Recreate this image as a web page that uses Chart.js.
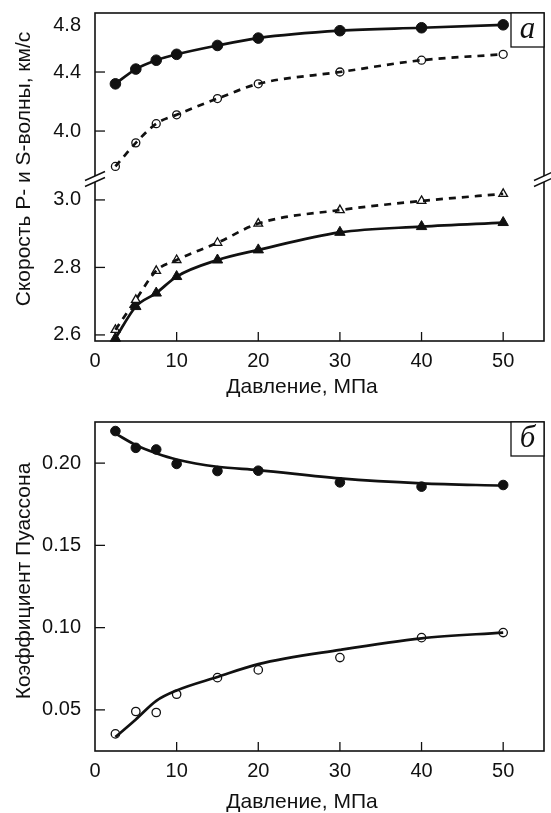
<!DOCTYPE html>
<html lang="ru">
<head>
<meta charset="utf-8">
<title>Скорость волн и коэффициент Пуассона</title>
<script src="https://cdn.jsdelivr.net/npm/chart.js@4.4.1/dist/chart.umd.min.js"></script>
<style>
  html, body { margin: 0; padding: 0; background: #fff; }
  canvas { position: absolute; left: 0; }
  #chart-velocity { top: 0; }
  #chart-poisson { top: 400px; }
</style>
</head>
<body>
<canvas id="chart-velocity" width="551" height="400"></canvas>
<canvas id="chart-poisson" width="551" height="413"></canvas>
<script>
// Давление, МПа
const PRESSURE = [2.5, 5, 7.5, 10, 15, 20, 30, 40, 50];

// Скорость P-волны, км/с (заполненные и пустые кружки)
const VP_FILLED = [4.32, 4.42, 4.48, 4.52, 4.58, 4.63, 4.68, 4.70, 4.72];
const VP_OPEN   = [3.76, 3.92, 4.05, 4.11, 4.22, 4.32, 4.40, 4.48, 4.52];

// Скорость S-волны, км/с (пустые и заполненные треугольники)
const VS_OPEN   = [2.615, 2.704, 2.79, 2.822, 2.873, 2.93, 2.97, 2.997, 3.018];
const VS_FILLED = [2.59, 2.684, 2.724, 2.773, 2.822, 2.852, 2.904, 2.921, 2.933];

// Коэффициент Пуассона: измерения и сглаживающие кривые
const NU_FILLED     = [0.2195, 0.2093, 0.2083, 0.1995, 0.1952, 0.1954, 0.1883, 0.1857, 0.1867];
const NU_FILLED_FIT = [0.2180, 0.2110, 0.2060, 0.2022, 0.1978, 0.1958, 0.1907, 0.1877, 0.1863];
const NU_OPEN       = [0.0354, 0.0490, 0.0484, 0.0595, 0.0696, 0.0743, 0.0818, 0.0939, 0.0970];
const NU_OPEN_FIT   = [0.0335, 0.0442, 0.0555, 0.0618, 0.0700, 0.0778, 0.0865, 0.0935, 0.0970];

// Подписи делений
const X_TICKS  = [0, 10, 20, 30, 40, 50];
const VP_TICKS = [4.0, 4.4, 4.8];
const VS_TICKS = [2.6, 2.8, 3.0];
const NU_TICKS = [0.05, 0.10, 0.15, 0.20];

const INK = "#111";
const SANS = "'Liberation Sans', Arial, sans-serif";

const pts = (ys) => PRESSURE.map((x, i) => ({ x, y: ys[i] }));

// точки измерений
function markers(ys, axis, style, filled, r) {
  return {
    data: pts(ys), yAxisID: axis, order: 1, showLine: false, clip: false,
    pointStyle: style, pointRadius: r, pointHoverRadius: r,
    pointBackgroundColor: filled ? INK : "#fff",
    pointBorderColor: INK, pointBorderWidth: filled ? 1 : 1.3,
  };
}

// кривая поверх точек
function curve(ys, axis, dashed) {
  return {
    data: pts(ys), yAxisID: axis, order: 0, showLine: true, clip: false,
    pointRadius: 0, borderColor: INK, borderWidth: 2.7,
    borderDash: dashed ? [7, 6] : [], cubicInterpolationMode: "monotone",
  };
}

function fixTicks(values) {
  return (s) => { s.ticks = values.map((v) => ({ value: v })); };
}

// без запаса под крайние подписи: область графика задаётся вручную
function noPadding(s) {
  s.paddingTop = s.paddingBottom = s.paddingLeft = s.paddingRight = 0;
}

const tickFont = { family: SANS, size: 20 };

function xScale(height) {
  return {
    type: "linear", min: 0, max: 55,
    grid: { display: false, drawTicks: false }, border: { display: false },
    ticks: { font: tickFont, color: INK, padding: 8, maxRotation: 0, autoSkip: false },
    afterBuildTicks: fixTicks(X_TICKS),
    afterFit: (s) => { s.height = height; noPadding(s); },
  };
}

function yScale(min, max, values, digits, extra) {
  return Object.assign({
    type: "linear", position: "left", min, max,
    grid: { display: false, drawTicks: false }, border: { display: false },
    ticks: {
      font: tickFont, color: INK, padding: 14, autoSkip: false,
      // подпись у самой рамки опускаем на полстроки, чтобы она не вылезала наверх
      callback: (v) => (v >= max - 1e-9 ? ["", Number(v).toFixed(digits)] : Number(v).toFixed(digits)),
    },
    afterBuildTicks: fixTicks(values),
    afterFit: (s) => { s.width = 95; noPadding(s); },
  }, extra);
}

// Рамка, внутренние деления, разрыв оси, подписи осей и метка панели
const panelPlugin = {
  id: "panel",
  beforeDatasetsDraw(chart, args, o) {
    const { ctx, chartArea: a } = chart;
    ctx.save();
    ctx.strokeStyle = INK;
    ctx.lineWidth = 1.6;
    ctx.strokeRect(a.left, a.top, a.right - a.left, a.bottom - a.top);

    // деления внутрь области графика
    ctx.lineWidth = 1.3;
    Object.values(chart.scales).forEach((sc) => {
      sc.ticks.forEach((t) => {
        const p = sc.getPixelForValue(t.value);
        ctx.beginPath();
        if (sc.axis === "x") {
          if (p <= a.left + 1) return;
          ctx.moveTo(p, a.bottom); ctx.lineTo(p, a.bottom - 9);
        } else {
          if (p <= a.top + 1) return;
          ctx.moveTo(a.left, p); ctx.lineTo(a.left + 10, p);
        }
        ctx.stroke();
      });
    });

    // разрыв оси между двумя шкалами
    if (o.breakScale) {
      const yb = chart.scales[o.breakScale].bottom;
      [a.left, a.right].forEach((x) => {
        ctx.fillStyle = "#fff";
        ctx.fillRect(x - 2, yb - 3, 4, 6);
        ctx.lineWidth = 1.4;
        [-3, 3].forEach((d) => {
          ctx.beginPath();
          ctx.moveTo(x - 10, yb + d + 4.5);
          ctx.lineTo(x + 10, yb + d - 4.5);
          ctx.stroke();
        });
      });
    }
    ctx.restore();
  },
  afterDatasetsDraw(chart, args, o) {
    const { ctx, chartArea: a } = chart;
    ctx.save();
    // метка панели в правом верхнем углу
    const bw = 33, bh = 34;
    ctx.fillStyle = "#fff";
    ctx.fillRect(a.right - bw, a.top, bw, bh);
    ctx.strokeStyle = INK;
    ctx.lineWidth = 1.3;
    ctx.strokeRect(a.right - bw, a.top, bw, bh);
    ctx.fillStyle = INK;
    ctx.font = "italic 31px 'Liberation Serif', 'Times New Roman', serif";
    ctx.textAlign = "center";
    ctx.textBaseline = "alphabetic";
    ctx.fillText(o.label, a.right - bw / 2, a.top + 25);

    // подписи осей
    ctx.font = `21px ${SANS}`;
    ctx.fillText(o.xTitle, o.xTitleX, o.xTitleY);
    ctx.translate(o.yTitleX, o.yTitleY);
    ctx.rotate(-Math.PI / 2);
    ctx.textBaseline = "middle";
    ctx.fillText(o.yTitle, 0, 0);
    ctx.restore();
  },
};

const common = {
  responsive: false,
  animation: false,
  events: [],
  plugins: { legend: { display: false }, tooltip: { enabled: false } },
};

new Chart(document.getElementById("chart-velocity"), {
  type: "scatter",
  data: {
    datasets: [
      curve(VP_FILLED, "yUp", false),
      curve(VP_OPEN, "yUp", true),
      curve(VS_OPEN, "yLow", true),
      curve(VS_FILLED, "yLow", false),
      markers(VP_FILLED, "yUp", "circle", true, 5.3),
      markers(VP_OPEN, "yUp", "circle", false, 4),
      markers(VS_OPEN, "yLow", "triangle", false, 5),
      markers(VS_FILLED, "yLow", "triangle", true, 6),
    ],
  },
  options: {
    ...common,
    layout: { padding: { top: 13, right: 7, left: 0, bottom: 0 } },
    scales: {
      x: xScale(59),
      yUp: yScale(3.675, 4.8, VP_TICKS, 1, { stack: "v", stackWeight: 166, weight: 1 }),
      yLow: yScale(2.582, 3.062, VS_TICKS, 1, { stack: "v", stackWeight: 162, weight: 0 }),
    },
    plugins: {
      ...common.plugins,
      panel: {
        label: "а", breakScale: "yUp",
        xTitle: "Давление, МПа", xTitleX: 302, xTitleY: 393,
        yTitle: "Скорость P- и S-волны, км/с", yTitleX: 24, yTitleY: 169,
      },
    },
  },
  plugins: [panelPlugin],
});

new Chart(document.getElementById("chart-poisson"), {
  type: "scatter",
  data: {
    datasets: [
      curve(NU_FILLED_FIT, "y", false),
      curve(NU_OPEN_FIT, "y", false),
      markers(NU_FILLED, "y", "circle", true, 4.8),
      markers(NU_OPEN, "y", "circle", false, 4.2),
    ],
  },
  options: {
    ...common,
    layout: { padding: { top: 22, right: 7, left: 0, bottom: 0 } },
    scales: {
      x: xScale(62),
      y: yScale(0.025, 0.225, NU_TICKS, 2),
    },
    plugins: {
      ...common.plugins,
      panel: {
        label: "б",
        xTitle: "Давление, МПа", xTitleX: 302, xTitleY: 408,
        yTitle: "Коэффициент Пуассона", yTitleX: 24, yTitleY: 181,
      },
    },
  },
  plugins: [panelPlugin],
});
</script>
</body>
</html>
